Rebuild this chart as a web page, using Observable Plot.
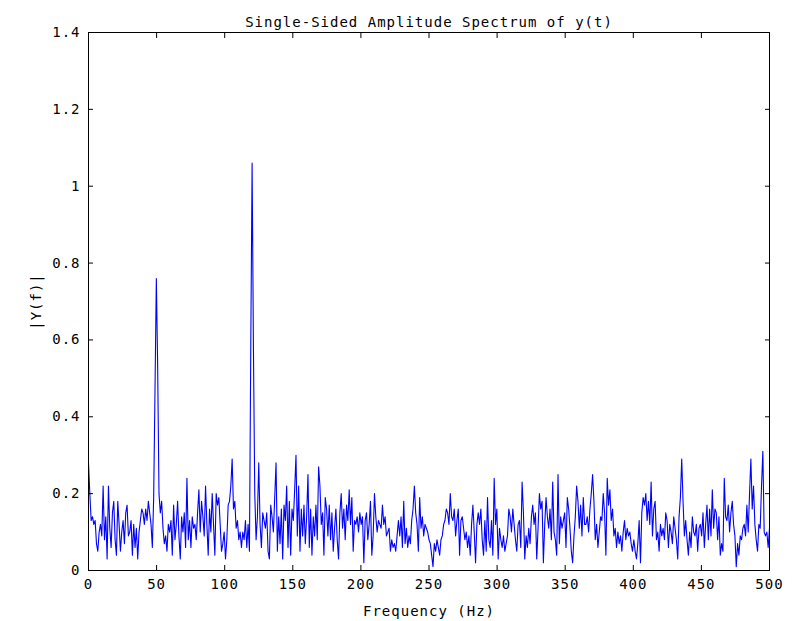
<!DOCTYPE html>
<html>
<head>
<meta charset="utf-8">
<script src="https://cdn.jsdelivr.net/npm/d3@7"></script>
<script src="https://cdn.jsdelivr.net/npm/@observablehq/plot@0.6"></script>
<style>
  html, body { margin: 0; padding: 0; background: #fff; }
  svg text { letter-spacing: 1px; }
</style>
</head>
<body>
<div id="chart"></div>
<script>
// Sampling setup of the spectrum (Fs = 1000 Hz, NFFT = 1024 → 513 one-sided bins)
const sampleRate = 1000;
const nfft = 1024;

// |Y(f)|, bin by bin, in frequency bands
const amp0to45 = [0.28,0.20,0.13,0.14,0.12,0.13,0.07,0.05,0.10,0.12,0.09,0.22,0.08,0.14,0.03,0.22,0.11,0.06,0.15,0.18,0.08,0.04,0.18,0.12,0.05,0.10,0.13,0.07,0.15,0.17,0.09,0.10,0.13,0.04,0.12,0.06,0.11,0.03,0.10,0.13,0.16,0.15,0.12,0.16,0.13,0.18,0.15];
const amp46to48 = [0.12,0.06,0.19];
const peak50Hz = [0.47,0.76,0.53];
const amp52to91 = [0.20,0.15,0.18,0.11,0.07,0.09,0.05,0.12,0.10,0.13,0.04,0.17,0.08,0.12,0.18,0.09,0.03,0.14,0.10,0.15,0.06,0.24,0.08,0.13,0.06,0.14,0.11,0.12,0.08,0.15,0.21,0.10,0.18,0.14,0.09,0.22,0.12,0.04,0.16,0.10,0.20];
const amp92to118 = [0.12,0.04,0.20,0.17,0.19,0.12,0.05,0.07,0.10,0.03,0.08,0.17,0.18,0.22,0.29,0.16,0.18,0.11,0.13,0.08,0.10,0.06,0.10,0.08,0.13,0.06,0.12,0.05];
const peak120Hz = [0.58,1.06,0.58];
const amp122to137 = [0.20,0.08,0.14,0.28,0.12,0.06,0.15,0.13,0.11,0.15,0.05,0.03,0.17,0.14,0.10,0.19];
const amp138to182 = [0.28,0.05,0.14,0.07,0.16,0.03,0.17,0.13,0.22,0.06,0.18,0.04,0.16,0.13,0.21,0.30,0.09,0.22,0.05,0.16,0.09,0.17,0.07,0.14,0.25,0.06,0.16,0.04,0.14,0.09,0.17,0.08,0.27,0.22,0.12,0.15,0.04,0.19,0.16,0.09,0.17,0.08,0.15,0.05,0.11,0.16];
const amp183to228 = [0.08,0.03,0.15,0.20,0.11,0.16,0.08,0.17,0.13,0.21,0.12,0.19,0.05,0.13,0.12,0.14,0.10,0.15,0.12,0.14,0.02,0.13,0.15,0.08,0.12,0.18,0.04,0.09,0.20,0.14,0.10,0.13,0.12,0.11,0.17,0.12,0.14,0.09,0.10,0.11,0.05,0.08,0.06,0.07,0.05,0.09,0.13];
const amp229to274 = [0.09,0.14,0.06,0.18,0.07,0.11,0.06,0.09,0.07,0.13,0.16,0.22,0.15,0.12,0.05,0.19,0.11,0.14,0.09,0.12,0.11,0.10,0.08,0.07,0.04,0.01,0.07,0.05,0.08,0.06,0.04,0.08,0.09,0.12,0.13,0.16,0.15,0.12,0.20,0.14,0.13,0.16,0.09,0.13,0.16,0.04,0.13];
const amp274to318 = [0.14,0.11,0.08,0.10,0.06,0.09,0.04,0.12,0.17,0.10,0.02,0.12,0.15,0.12,0.16,0.08,0.04,0.13,0.05,0.19,0.08,0.06,0.13,0.04,0.24,0.12,0.16,0.03,0.11,0.08,0.06,0.09,0.05,0.07,0.09,0.16,0.14,0.10,0.16,0.12,0.08,0.05,0.12,0.13,0.06,0.23];
const amp319to364 = [0.15,0.03,0.09,0.06,0.11,0.07,0.14,0.17,0.12,0.15,0.03,0.11,0.20,0.16,0.18,0.02,0.12,0.19,0.14,0.11,0.16,0.08,0.23,0.10,0.08,0.04,0.25,0.07,0.14,0.11,0.13,0.15,0.06,0.19,0.16,0.11,0.05,0.02,0.09,0.14,0.22,0.18,0.11,0.17,0.09,0.19,0.12];
const amp365to410 = [0.12,0.14,0.10,0.16,0.20,0.25,0.18,0.08,0.12,0.06,0.10,0.14,0.13,0.20,0.15,0.04,0.24,0.17,0.21,0.13,0.16,0.09,0.11,0.06,0.10,0.07,0.09,0.05,0.10,0.13,0.08,0.11,0.09,0.10,0.07,0.05,0.08,0.05,0.03,0.07,0.13,0.02,0.15,0.19,0.17,0.20,0.13];
const amp411to455 = [0.18,0.12,0.23,0.09,0.16,0.18,0.08,0.10,0.05,0.12,0.09,0.11,0.08,0.15,0.13,0.06,0.12,0.10,0.07,0.14,0.11,0.08,0.03,0.14,0.19,0.29,0.18,0.09,0.13,0.08,0.04,0.10,0.06,0.14,0.10,0.09,0.12,0.05,0.11,0.12,0.09,0.15,0.06,0.12,0.17,0.08];
const amp456to500 = [0.16,0.09,0.21,0.11,0.16,0.15,0.08,0.14,0.04,0.07,0.05,0.24,0.14,0.13,0.17,0.10,0.15,0.18,0.12,0.09,0.01,0.07,0.04,0.09,0.08,0.11,0.12,0.09,0.17,0.10,0.20,0.29,0.16,0.22,0.12,0.08,0.05,0.12,0.11,0.22,0.31,0.10,0.09,0.10,0.06,0.11];

// Tick values and labels
const xTicks = [0, 50, 100, 150, 200, 250, 300, 350, 400, 450, 500];
const yTicks = [0, 0.2, 0.4, 0.6, 0.8, 1, 1.2, 1.4];
const titleText = "Single-Sided Amplitude Spectrum of y(t)";
const xLabel = "Frequency (Hz)";
const yLabel = "|Y(f)|";

const amplitude = [].concat(amp0to45, amp46to48, peak50Hz, amp52to91, amp92to118, peak120Hz,
  amp122to137, amp138to182, amp183to228, amp229to274, amp274to318, amp319to364,
  amp365to410, amp411to455, amp456to500);
const data = amplitude.map((a, i) => ({f: i * sampleRate / nfft, amp: a}));

const font = "'DejaVu Sans Mono', monospace";
const fmt = d => String(d);

const chart = Plot.plot({
  width: 799,
  height: 621,
  marginLeft: 88,
  marginRight: 30,
  marginTop: 32,
  marginBottom: 51,
  style: {fontFamily: font, fontSize: "14px", color: "#000", background: "#fff"},
  x: {domain: [0, 500]},
  y: {domain: [0, 1.4]},
  marks: [
    Plot.line(data, {x: "f", y: "amp", stroke: "#0000ff", strokeWidth: 1.1}),
    Plot.frame({stroke: "#000", strokeWidth: 1}),
    // tick labels and axis titles
    Plot.axisX({ticks: xTicks, tickFormat: fmt, tickSize: 0, tickPadding: 9, label: xLabel, labelAnchor: "center", labelOffset: 45, labelArrow: "none"}),
    Plot.axisY({ticks: yTicks, tickFormat: fmt, tickSize: 0, tickPadding: 8, label: yLabel, labelAnchor: "center", labelOffset: 57, labelArrow: "none"}),
    // inward tick marks on all four sides
    Plot.axisX({ticks: xTicks, anchor: "bottom", tickSize: -5, fill: "none", label: null}),
    Plot.axisX({ticks: xTicks, anchor: "top", tickSize: -5, fill: "none", label: null}),
    Plot.axisY({ticks: yTicks, anchor: "left", tickSize: -5, fill: "none", label: null}),
    Plot.axisY({ticks: yTicks, anchor: "right", tickSize: -5, fill: "none", label: null}),
    Plot.text([titleText], {text: d => d, frameAnchor: "top", dy: -15, fontSize: 14, fill: "#000"})
  ]
});
document.getElementById("chart").appendChild(chart);
</script>
</body>
</html>
